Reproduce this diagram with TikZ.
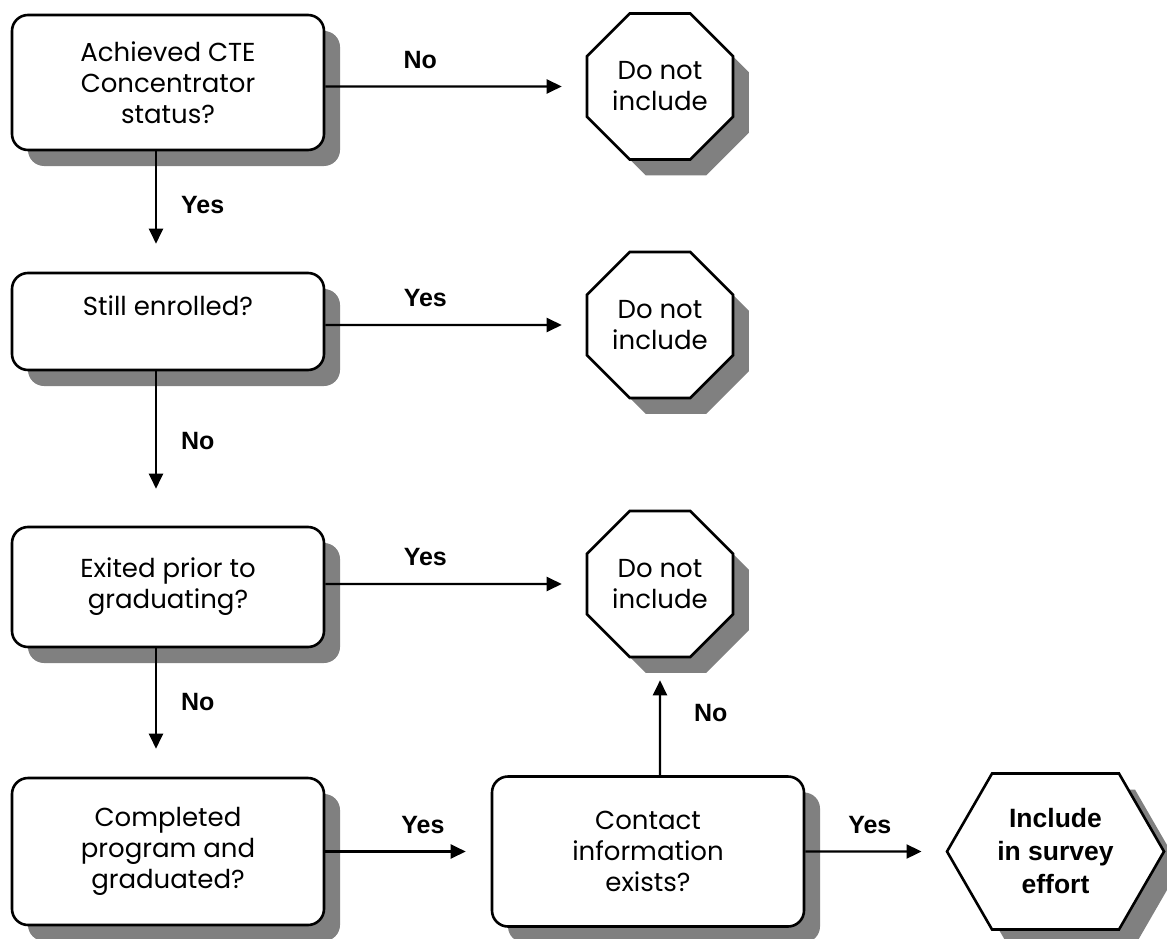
\documentclass[tikz,border=0pt]{standalone}
\usepackage{fontspec}
\setmainfont{Poppins}
\newfontfamily\labelfont{Liberation Sans}
\usetikzlibrary{positioning, arrows.meta, shapes.geometric, shapes.symbols, shadows}

\begin{document}
\begin{tikzpicture}[x=1pt, y=-1pt, >={Triangle[length=15pt, width=14pt]}, on grid,
    every node/.style={align=center, font=\fontsize{26}{31}\selectfont},
    shade/.style={drop shadow={shadow xshift=16pt, shadow yshift=-16pt, fill=black!50, opacity=1}},
    decision/.style={draw, line width=2.6pt, rounded corners=16pt, fill=white, minimum width=312pt, shade},
    stopsign/.style={draw, line width=2.6pt, fill=white, regular polygon, regular polygon sides=8, minimum size=158pt, inner sep=0pt, shade},
    goal/.style={draw, line width=2.6pt, fill=white, signal, signal to=west and east, signal pointer angle=120, minimum width=217pt, minimum height=156pt, inner sep=0pt, shade, font=\labelfont\bfseries\fontsize{26.5}{33}\selectfont},
    lbl/.style={font=\labelfont\bfseries\fontsize{25}{28}\selectfont, inner sep=0pt},
    flow/.style={->, line width=2.3pt}]
    \useasboundingbox (0,0) rectangle (1167,939);

    \node[decision, minimum height=135pt] (cte) at (168,82.5) {Achieved CTE\\Concentrator\\status?};
    \node[decision, minimum height=97pt, below=239pt of cte] (enrolled) {Still enrolled?\\ \mbox{}};
    \node[decision, minimum height=120pt, below=265.5pt of enrolled] (exited) {Exited prior to\\graduating?};
    \node[decision, minimum height=147pt, below=264.5pt of exited] (completed) {Completed\\program and\\graduated?};
    \node[decision, minimum height=150pt, right=480pt of completed] (contact) {Contact\\information\\exists?};
    \node[goal, right=407.5pt of contact] (include) {Include\\in survey\\effort};

    \node[stopsign, right=492pt of cte, yshift=-4pt] (skipA) {Do not\\include};
    \node[stopsign, right=492pt of enrolled, yshift=-3.5pt] (skipB) {Do not\\include};
    \node[stopsign, right=492pt of exited, yshift=3pt] (skipC) {Do not\\include};

    \draw[flow, shorten >=24pt] (cte.east |- skipA) -- node[lbl, anchor=south, yshift=17pt, pos=0.365] (noA) {No} (skipA);
    \draw[flow, shorten >=24pt] (enrolled.east |- skipB) -- node[lbl, anchor=south, yshift=17pt, pos=0.384] (yesB) {Yes} (skipB);
    \draw[flow, shorten >=24pt] (exited.east |- skipC) -- node[lbl, anchor=south, yshift=17pt, pos=0.384] (yesC) {Yes} (skipC);
    \draw[flow, shorten >=25pt] (completed) -- node[lbl, anchor=south, yshift=17pt, pos=0.59] (yesD) {Yes} (contact);
    \draw[flow, shorten >=24pt] (contact) -- node[lbl, anchor=south, yshift=17pt, pos=0.46] (yesE) {Yes} (include);

    % the down arrows sit a little left of the box middle
    \draw[flow, shorten >=28pt] ([xshift=-12pt]cte.south) -- node[lbl, anchor=west, xshift=24pt, pos=0.45] (yesA) {Yes} ([xshift=-12pt]enrolled.north);
    \draw[flow, shorten >=37pt] ([xshift=-12pt]enrolled.south) -- node[lbl, anchor=west, xshift=24pt, pos=0.45] (noB) {No} ([xshift=-12pt]exited.north);
    \draw[flow, shorten >=28pt] ([xshift=-12pt]exited.south) -- node[lbl, anchor=west, xshift=24pt, pos=0.42] (noC) {No} ([xshift=-12pt]completed.north);
    \draw[flow, shorten >=22pt] (skipC |- contact.north) -- node[lbl, anchor=west, xshift=33pt, pos=0.53] (noD) {No} (skipC);
\end{tikzpicture}
\end{document}
